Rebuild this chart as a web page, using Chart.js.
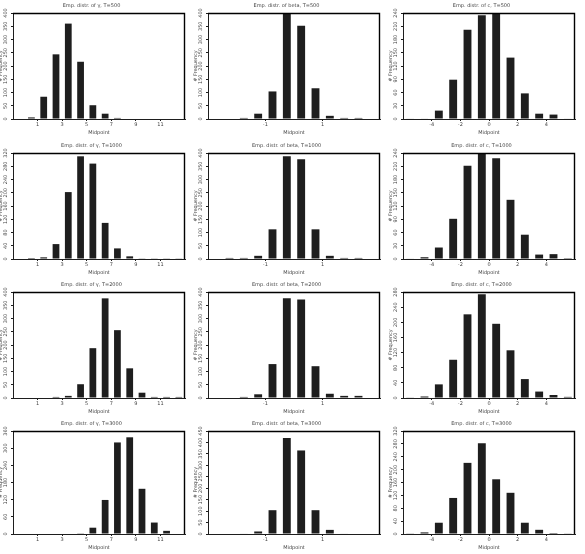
<!DOCTYPE html>
<html>
<head>
<meta charset="utf-8">
<script src="https://cdn.jsdelivr.net/npm/chart.js@4.4.0/dist/chart.umd.min.js"></script>
<style>
html, body { margin: 0; padding: 0; background: #fff; }
#wrap { position: relative; width: 585px; height: 554px; overflow: hidden; }
.cell { position: absolute; }
</style>
</head>
<body>
<div id="wrap"></div>
<script>
// bin midpoints per parameter
const gammaMid = [-0.5, 0.5, 1.5, 2.5, 3.5, 4.5, 5.5, 6.5, 7.5, 8.5, 9.5, 10.5, 11.5, 12.5];
const betaMid = [-2.75, -2.25, -1.75, -1.25, -0.75, -0.25, 0.25, 0.75, 1.25, 1.75, 2.25, 2.75];
const cMid = [-5.5, -4.5, -3.5, -2.5, -1.5, -0.5, 0.5, 1.5, 2.5, 3.5, 4.5, 5.5];

// x tick labels
const gammaTicks = [1, 3, 5, 7, 9, 11];
const betaTicks = [-1, 1];
const cTicks = [-4, -2, 0, 2, 4];

// frequencies, one array per panel
const gamma500 = [0, 6, 84, 244, 360, 216, 52, 20, 4, 2, 2, 2, 2, 2];
const gamma1000 = [0, 3, 5, 45, 202, 310, 288, 109, 32, 8, 1, 1, 1, 1];
const gamma2000 = [0, 2, 2, 4, 8, 52, 188, 376, 256, 112, 20, 4, 4, 4];
const gamma3000 = [0, 0, 0, 0, 0, 1, 22, 119, 320, 338, 158, 40, 11, 0];

const beta500 = [0, 2, 4, 20, 104, 396, 352, 116, 12, 4, 4, 0];
const beta1000 = [0, 4, 4, 12, 112, 388, 376, 112, 12, 4, 4, 0];
const beta2000 = [0, 2, 4, 14, 128, 376, 372, 120, 16, 8, 8, 0];
const beta3000 = [0, 0, 2, 11, 104, 419, 365, 104, 18, 2, 0, 0];

const c500 = [1, 1, 19, 89, 202, 235, 238, 139, 58, 12, 10, 1];
const c1000 = [1, 4, 26, 91, 211, 240, 228, 134, 55, 10, 11, 2];
const c2000 = [1, 4, 36, 101, 221, 274, 196, 126, 50, 17, 8, 3];
const c3000 = [2, 5, 35, 112, 221, 282, 170, 128, 35, 13, 3, 2];

const sampleSizes = ['500', '1000', '2000', '3000'];

const columns = [
    { name: 'γ', mid: gammaMid, ticks: gammaTicks, min: -1, max: 13, series: [gamma500, gamma1000, gamma2000, gamma3000], ymax: [400, 320, 400, 360], step: [50, 40, 50, 60] },
    { name: 'beta', mid: betaMid, ticks: betaTicks, min: -3, max: 3, series: [beta500, beta1000, beta2000, beta3000], ymax: [400, 400, 400, 450], step: [50, 50, 50, 50] },
    { name: 'c', mid: cMid, ticks: cTicks, min: -6, max: 6, series: [c500, c1000, c2000, c3000], ymax: [240, 240, 280, 320], step: [30, 30, 40, 40] }
];

const colLeft = [-2, 193, 388];
const rowTop = [0, 140, 279, 418];
const rowHeight = [139, 139, 139, 136];

const ink = '#1e1e1e';
const textColor = '#444';
const smallFont = { family: 'DejaVu Sans', size: 5, lineHeight: 1 };
const titleFont = { family: 'DejaVu Sans', size: 5, lineHeight: 1, weight: 'normal' };

// close the box on top and right of the plot area
const framePlugin = {
    id: 'frame',
    afterDraw(chart) {
        const a = chart.chartArea;
        const ctx = chart.ctx;
        ctx.save();
        ctx.strokeStyle = '#000';
        ctx.lineWidth = 1.4;
        ctx.beginPath();
        ctx.moveTo(Math.round(a.left), Math.round(a.top) + 0.5);
        ctx.lineTo(Math.round(a.right) - 0.5, Math.round(a.top) + 0.5);
        ctx.lineTo(Math.round(a.right) - 0.5, Math.round(a.bottom));
        ctx.stroke();
        ctx.restore();
    }
};

const wrap = document.getElementById('wrap');

columns.forEach((col, ci) => {
    col.series.forEach((vals, ri) => {
        const cell = document.createElement('div');
        cell.className = 'cell';
        cell.style.left = colLeft[ci] + 'px';
        cell.style.top = rowTop[ri] + 'px';
        const canvas = document.createElement('canvas');
        canvas.width = 197;
        canvas.height = rowHeight[ri];
        cell.appendChild(canvas);
        wrap.appendChild(cell);

        new Chart(canvas.getContext('2d'), {
            type: 'bar',
            data: {
                datasets: [{
                    data: col.mid.map((x, i) => ({ x: x, y: vals[i] })),
                    backgroundColor: ink,
                    borderWidth: 0,
                    barPercentage: 0.55,
                    categoryPercentage: 1
                }]
            },
            options: {
                responsive: false,
                animation: false,
                layout: { padding: { top: 0, right: 10, bottom: 4, left: 0 } },
                plugins: {
                    legend: { display: false },
                    tooltip: { enabled: false },
                    title: {
                        display: true,
                        text: 'Emp. distr. of ' + col.name + ', T=' + sampleSizes[ri],
                        color: textColor,
                        font: titleFont,
                        padding: { top: 3, bottom: 5 }
                    }
                },
                scales: {
                    x: {
                        type: 'linear',
                        min: col.min,
                        max: col.max,
                        offset: false,
                        afterBuildTicks: scale => {
                            scale.ticks = col.ticks.map(v => ({ value: v }));
                        },
                        grid: { display: true, drawOnChartArea: false, offset: false, tickLength: 2, color: ink },
                        border: { color: ink },
                        ticks: { font: smallFont, color: textColor, padding: 1, maxRotation: 0, autoSkip: false },
                        title: { display: true, text: 'Midpoint', color: textColor, font: smallFont, padding: { top: 2, bottom: 0 } }
                    },
                    y: {
                        min: 0,
                        max: col.ymax[ri],
                        grid: { display: true, drawOnChartArea: false, tickLength: 2, color: ink },
                        border: { color: ink },
                        ticks: { stepSize: col.step[ri], autoSkip: false, font: smallFont, color: textColor, padding: 1, minRotation: 90, maxRotation: 90, crossAlign: 'center' },
                        title: { display: true, text: '# Frequency', color: textColor, font: smallFont, padding: { top: 0, bottom: 1 } }
                    }
                }
            },
            plugins: [framePlugin]
        });
    });
});
</script>
</body>
</html>
